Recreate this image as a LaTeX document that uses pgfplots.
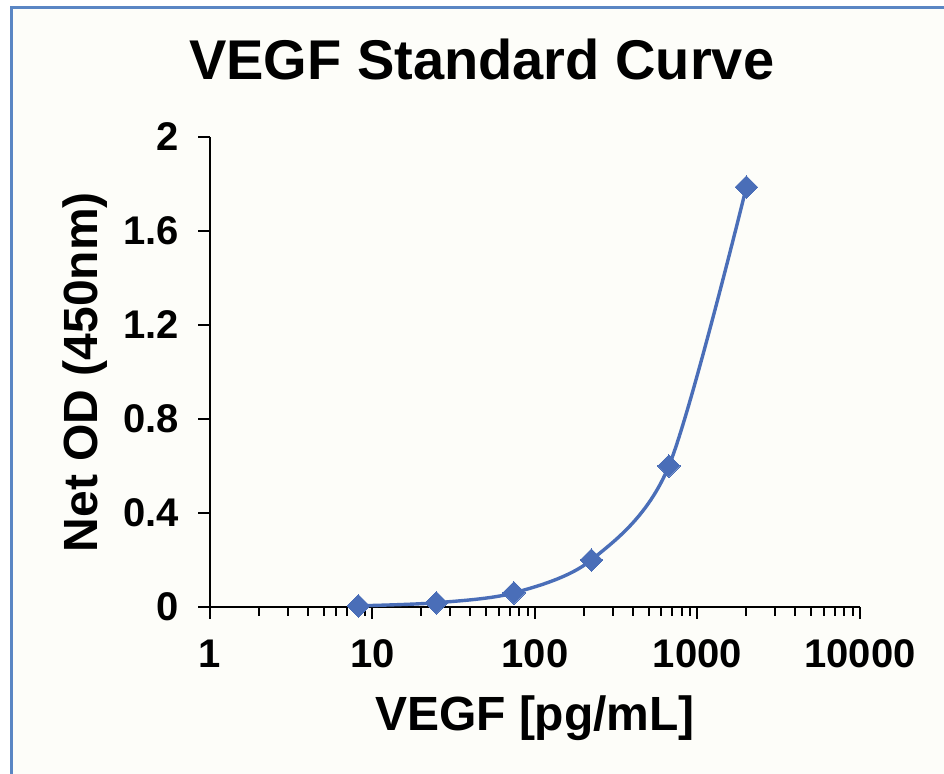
\documentclass[border=0pt]{standalone}
\usepackage{pgfplots}
\pgfplotsset{compat=1.18}
\usepackage{fontspec}
\setmainfont{Liberation Sans}
\definecolor{vgBlue}{HTML}{4A6EB8}
\definecolor{vgFrame}{HTML}{5A86C4}
\definecolor{vgPaper}{HTML}{FDFDF9}
\begin{document}
\begin{tikzpicture}
% paper and frame (1px of the reference = 0.5pt)
\fill[vgPaper] (-99pt,-83.5pt) rectangle (367pt,299.5pt);
\draw[vgFrame,line width=1.5pt] (-99pt,-83.5pt) -- (-99pt,299.5pt) -- (367pt,299.5pt);
\begin{axis}[
  at={(0,0)}, anchor=south west,
  scale only axis, width=325pt, height=235pt,
  xmode=log, xmin=1, xmax=10000, ymin=0, ymax=2,
  axis x line=bottom, axis y line=left,
  axis line style={-, line width=1pt, black},
  tick align=outside, major tick length=6pt, minor tick length=4.5pt,
  tick style={black, line width=1pt},
  xtick={1,10,100,1000,10000},
  xticklabels={\textbf{1},\textbf{10},\textbf{100},\textbf{1000},\textbf{10000}},
  ytick={0,0.4,0.8,1.2,1.6,2},
  yticklabels={\textbf{0},\textbf{0.4},\textbf{0.8},\textbf{1.2},\textbf{1.6},\textbf{2}},
  tick label style={font=\bfseries\fontsize{20}{20}\selectfont},
  xticklabel style={yshift=-7pt},
  yticklabel style={xshift=-6pt},
  title={VEGF Standard Curve},
  title style={at={(axis description cs:0.418,1.14)}, anchor=center,
               font=\bfseries\fontsize{28}{28}\selectfont},
  xlabel={VEGF [pg/mL]},
  xlabel style={at={(axis description cs:0.5,-0.236)}, anchor=center,
                font=\bfseries\fontsize{24}{24}\selectfont},
  ylabel={Net OD (450nm)},
  ylabel style={at={(axis description cs:-0.192,0.5)}, anchor=center,
                font=\bfseries\fontsize{24}{24}\selectfont},
  clip=false,
]
\addplot[vgBlue, line width=1.7pt, smooth, mark=square*, mark size=4pt,
  mark options={rotate=45, fill=vgBlue, draw=vgBlue, line width=0pt}]
  coordinates {(8.2,0.005)(24.7,0.018)(74.1,0.06)(222.2,0.2)(666.7,0.6)(2000,1.787)};
\end{axis}
\pgfresetboundingbox
\path[use as bounding box] (-105pt,-83.5pt) rectangle (367pt,303.5pt);
\end{tikzpicture}
\end{document}
